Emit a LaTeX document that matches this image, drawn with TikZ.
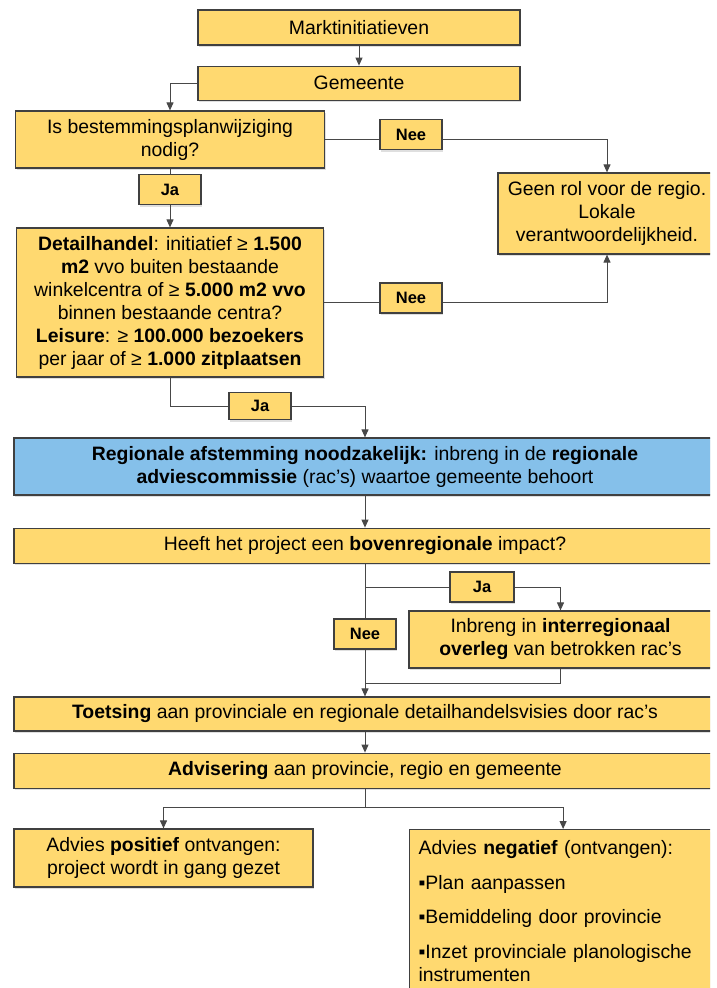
\documentclass[tikz,border=0pt]{standalone}
\usepackage{fontspec}
\setmainfont{Liberation Sans}
\usepackage{tikz}
\usetikzlibrary{arrows.meta,positioning,calc,shadows}
\definecolor{boxyellow}{RGB}{255,217,112}
\definecolor{boxblue}{RGB}{133,192,234}
\definecolor{edgegray}{RGB}{64,64,64}
\definecolor{linegray}{RGB}{72,72,72}

\begin{document}
\begin{tikzpicture}[x=1pt, y=-1pt,
    block/.style={rectangle, draw=edgegray, line width=1.2pt, fill=boxyellow, align=center, inner sep=0pt,
        font=\fontsize{19.4}{23}\selectfont, drop shadow={shadow xshift=1pt, shadow yshift=-2pt, opacity=0.25}},
    wideblock/.style={block, minimum width=702pt},
    answer/.style={block, minimum width=62pt, minimum height=30pt, font=\fontsize{16.5}{20}\selectfont\bfseries},
    link/.style={draw=linegray, line width=1pt},
    arrow/.style={link, -{Triangle[length=8pt, width=7pt]}}]
    \path [use as bounding box, fill=white] (0,0) rectangle (716,988);
    \clip (0,0) rectangle (710,988);

    % Start
    \node (markt) [block, minimum width=322pt, minimum height=35pt] at (359,27.5) {Marktinitiatieven};
    \node (gem) [block, minimum width=322pt, minimum height=34pt, below=20pt of markt] {Gemeente};
    \draw [arrow] (markt) -- (gem);

    % Bestemmingsplan
    \node (plan) [block, minimum width=309pt, minimum height=57pt] at (170,139.5) {Is bestemmingsplanwijziging\\nodig?};
    \draw [arrow] (gem.west) -| (plan.north);
    \node (nee1) [answer] at (411,134.5) {Nee};
    \node (geenrol) [block, minimum width=218pt, minimum height=81pt] at (607,213.5) {Geen rol voor de regio.\\Lokale\\verantwoordelijkheid.};
    \draw [link] (plan.east) -- (plan.east -| nee1.west);
    \draw [arrow] (nee1.east |- plan.east) -| (geenrol.north);
    \node (ja1) [answer] at (170,189.5) {Ja};
    \node (detail) [block, minimum width=307pt, minimum height=149pt] at (170,302.5) {\textbf{Detailhandel}: initiatief ≥ \textbf{1.500}\\
        \textbf{m2} vvo buiten bestaande\\
        winkelcentra of ≥ \textbf{5.000 m2 vvo}\\
        binnen bestaande centra?\\
        \textbf{Leisure}: ≥ \textbf{100.000 bezoekers}\\
        per jaar of ≥ \textbf{1.000 zitplaatsen}};
    \draw [link] (plan) -- (ja1);
    \draw [arrow] (ja1) -- (detail);
    \node (nee2) [answer] at (411,298) {Nee};
    \draw [link] (detail.east) -- (detail.east -| nee2.west);
    \draw [arrow] (nee2.east |- detail.east) -| (geenrol.south);

    % Regionale afstemming
    \node (ja2) [answer, minimum height=27pt] at (260,406) {Ja};
    \node (regio) [wideblock, fill=boxblue, minimum height=57pt] at (365,466.5) {\textbf{Regionale afstemming noodzakelijk:} inbreng in de \textbf{regionale}\\
        \textbf{adviescommissie} (rac's) waartoe gemeente behoort};
    \draw [link] (detail.south) |- (ja2.west);
    \draw [arrow] (ja2.east) -| (regio.north);
    \node (impact) [wideblock, minimum height=35pt, below=32pt of regio] {Heeft het project een \textbf{bovenregionale} impact?};
    \draw [arrow] (regio) -- (impact);

    % Bovenregionaal
    \node (nee3) [answer] at (365,634) {Nee};
    \node (ja3) [answer, minimum width=64pt] at (482,587) {Ja};
    \node (inter) [block, minimum width=303pt, minimum height=57pt] at (560.5,639.5) {Inbreng in \textbf{interregionaal}\\
        \textbf{overleg} van betrokken rac's};
    \node (toets) [wideblock, minimum height=34pt] at (365,714) {\textbf{Toetsing} aan provinciale en regionale detailhandelsvisies door rac's};
    \coordinate (split) at (impact.south |- ja3);
    \coordinate (merge) at (365,683);
    \draw [link] (impact) -- (nee3);
    \draw [arrow] (nee3) -- (toets);
    \draw [link] (split) -- (ja3);
    \draw [arrow] (ja3.east) -| (inter.north);
    \draw [link] (inter.south) |- (merge);

    % Advies
    \node (advies) [wideblock, minimum height=35pt, below=21pt of toets] {\textbf{Advisering} aan provincie, regio en gemeente};
    \draw [arrow] (toets) -- (advies);
    \node (pos) [block, minimum width=299pt, minimum height=58pt] at (163.5,858) {Advies \textbf{positief} ontvangen:\\project wordt in gang gezet};
    \node (neg) [block, anchor=north west, align=left, text width=289pt, inner xsep=9pt, inner ysep=11pt] at (409,829) {Advies \textbf{negatief} (ontvangen):\\[12pt]
        ▪Plan aanpassen\\[11pt]
        ▪Bemiddeling door provincie\\[12pt]
        ▪Inzet provinciale planologische\\
        instrumenten};
    \coordinate (fork) at (365,807);
    \draw [link] (advies) -- (fork);
    \draw [arrow] (fork) -| (pos.north);
    \draw [arrow] (fork) -| (neg.north);
\end{tikzpicture}
\end{document}
